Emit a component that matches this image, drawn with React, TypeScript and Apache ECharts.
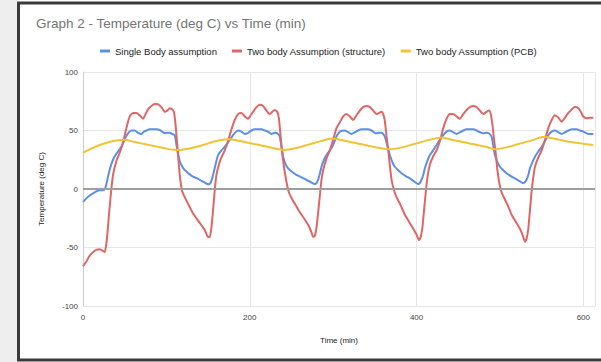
import React, { useEffect, useRef } from "react";
import * as echarts from "echarts";

const titleText = "Graph 2 - Temperature (deg C) vs Time (min)";
const seriesNames = [
  "Single Body assumption",
  "Two body Assumption (structure)",
  "Two body Assumption (PCB)",
];
const xTicks = [0, 200, 400, 600];
const yTicks = [-100, -50, 0, 50, 100];

const singleBody: [number, number][] = [
  [0, -11], [4, -8], [8, -5.5], [12, -3.7], [16, -2], [20, -1], [24, -1], [26, -0.5], [28, 4], [30, 10.5],
  [33, 19], [36, 25], [39, 29], [42, 32], [45, 35], [48, 39], [51, 44], [54, 47.6], [58, 50], [62, 50],
  [66, 48], [70, 47], [73, 49], [76, 50], [80, 51], [84, 51], [88, 51], [92, 50.4], [95, 49], [98, 47.6],
  [101, 48], [104, 48], [107, 47], [110, 46], [112, 38], [114, 30], [116, 24], [118, 20.5], [121, 17], [124, 15],
  [128, 12.5], [132, 10.5], [137, 9], [142, 7], [146, 5.5], [150, 4], [152, 4.5], [154, 7], [156, 12], [158, 18],
  [160, 24], [162, 29], [166, 33], [170, 36], [174, 40], [178, 44], [182, 48], [186, 50], [190, 49], [194, 47],
  [198, 48], [202, 50], [206, 51], [210, 51], [214, 51], [218, 50], [222, 49], [226, 47], [230, 48], [234, 47],
  [236, 44.7], [238, 36], [240, 27.6], [243, 21], [246, 17.7], [251, 14.5], [256, 12], [262, 10], [268, 7.7], [273, 6],
  [278, 4.3], [280, 5], [282, 8], [284, 13], [286, 19], [289, 25], [292, 29], [296, 33], [300, 37.6], [304, 45],
  [308, 49], [314, 50], [318, 48.5], [322, 47], [326, 48.5], [330, 50], [334, 51], [338, 51], [342, 51], [346, 50],
  [349, 48.5], [352, 47.6], [355, 48], [358, 48], [360, 47], [362, 44.7], [365, 37], [368, 29], [371, 23], [374, 19],
  [378, 16], [382, 13.4], [387, 11], [392, 9], [397, 6.5], [402, 4.3], [404, 5], [406, 8], [408, 12], [410, 17.7],
  [413, 24], [416, 29], [420, 33], [424, 37.6], [428, 42], [432, 46], [436, 49], [440, 50], [444, 48.5], [448, 47],
  [452, 48.5], [456, 50], [460, 51], [464, 51], [468, 51], [472, 50], [476, 48.5], [480, 47.6], [484, 48], [487, 47.5],
  [490, 44.7], [492, 37], [494, 29], [497, 23], [500, 19], [504, 16], [508, 13.4], [513, 11], [518, 9], [523, 7],
  [528, 5], [530, 6], [532, 8], [534, 12], [536, 17.7], [539, 23], [542, 27.6], [546, 32], [550, 36], [554, 41],
  [558, 46], [562, 49], [566, 50], [570, 48.5], [574, 47], [578, 48.5], [582, 50], [587, 51], [592, 51], [596, 50],
  [600, 49], [603, 48], [606, 47], [612, 47],
];

const structure: [number, number][] = [
  [0, -66], [4, -62], [8, -57], [12, -54], [16, -52], [20, -51.5], [24, -53], [26, -54], [28, -47], [30, -32],
  [32, -15], [34, 0], [36, 12], [40, 24], [44, 31], [48, 40], [52, 52], [56, 62], [60, 65], [64, 65],
  [68, 63], [72, 60], [75, 64], [78, 68], [82, 71], [86, 72.6], [90, 72.5], [94, 70], [98, 66], [101, 67],
  [104, 69], [107, 68], [109, 66], [111, 55], [113, 38], [116, 12], [119, -2], [122, -7], [127, -14], [132, -21],
  [137, -26], [142, -31], [146, -35], [150, -41], [152, -41], [154, -33], [156, -18], [158, -1], [160, 12], [163, 21],
  [166, 27], [170, 33], [174, 41], [178, 51], [182, 59], [186, 64], [190, 65], [194, 62], [198, 60], [201, 63],
  [204, 66], [208, 70], [212, 72], [216, 71], [220, 67], [224, 64], [227, 66], [230, 67.5], [233, 66], [235, 60],
  [237, 45], [239, 30], [241, 19], [244, 6], [247, -3], [251, -9], [256, -15], [261, -21], [266, -26], [271, -32],
  [274, -37], [276, -41], [278, -40], [280, -33], [282, -20], [284, -6], [286, 8], [288, 16], [292, 26], [296, 33],
  [300, 42], [304, 52], [308, 57], [312, 62], [316, 64], [320, 62], [324, 59], [328, 63], [332, 67], [336, 70],
  [340, 71], [344, 70], [348, 67], [352, 64], [355, 65], [358, 66], [360, 64], [362, 58], [364, 45], [366, 33],
  [368, 20], [370, 8], [373, -1], [376, -7], [381, -14], [386, -22], [391, -28], [396, -34], [400, -39], [403, -43.6],
  [405, -41], [407, -33], [409, -18], [411, -3], [413, 10], [416, 21], [420, 28], [424, 33], [428, 41], [432, 52],
  [436, 60], [440, 64], [444, 64], [448, 62], [452, 60], [456, 64], [460, 67.5], [464, 70], [468, 71], [472, 70],
  [476, 67], [480, 64], [484, 66], [487, 67], [489, 64], [491, 55], [493, 42], [495, 30], [497, 16], [499, 6],
  [502, -3], [506, -9], [510, -15], [514, -22], [519, -28], [524, -34], [527, -39], [530, -45], [532, -42], [534, -34],
  [536, -18], [538, -2], [540, 10], [542, 19], [546, 27], [550, 33], [554, 42], [558, 52], [562, 59], [566, 63],
  [570, 61], [574, 57.5], [578, 61], [582, 65], [586, 68], [590, 70], [594, 69], [597, 66], [600, 62], [604, 60.5],
  [608, 61], [612, 61],
];

const pcb: [number, number][] = [
  [0, 31], [10, 34.5], [20, 37.6], [30, 40], [40, 41.5], [50, 42], [60, 40.5], [70, 39], [80, 37.5], [90, 36],
  [100, 34.5], [110, 33.5], [116, 33.3], [122, 34], [130, 35], [140, 36.7], [150, 39], [160, 41], [170, 42.3], [176, 42.5],
  [185, 41.5], [195, 40], [205, 38.5], [215, 37], [225, 35.5], [235, 34], [241, 33.3], [248, 34], [258, 35.5], [268, 37.5],
  [278, 39.5], [288, 41.5], [296, 43], [302, 43], [312, 41.5], [322, 40], [332, 38.5], [342, 37], [352, 35.5], [362, 34.3],
  [368, 34], [375, 34.5], [385, 36], [395, 38], [405, 40], [415, 42], [425, 43.5], [430, 44], [440, 42.5], [450, 41],
  [460, 39.5], [470, 38], [480, 36.5], [488, 35], [494, 34], [500, 34.5], [510, 36], [520, 38], [530, 40], [540, 42],
  [548, 44], [554, 44.7], [562, 43.5], [572, 42], [582, 40.5], [592, 39.5], [602, 38.5], [612, 37.6],
];

const colors = ["#5b8fe8", "#e06666", "#f1c232"];

export default function App() {
  const ref = useRef<HTMLDivElement>(null);
  useEffect(() => {
    if (!ref.current) return;
    const chart = echarts.init(ref.current, null, { renderer: "svg" });
    const font = "Arial, 'Liberation Sans', sans-serif";
    const mk = (name: string, data: [number, number][], color: string) => ({
      name,
      type: "line",
      data,
      showSymbol: false,
      smooth: 0.2,
      lineStyle: { color, width: 2 },
      itemStyle: { color },
      z: 3,
    });
    chart.setOption({
      animation: false,
      color: colors,
      textStyle: { fontFamily: font },
      title: {
        text: titleText,
        left: 31,
        top: 11,
        textStyle: { fontSize: 13.5, fontWeight: "normal", color: "#757575", fontFamily: font },
      },
      legend: {
        top: 41,
        left: 95,
        itemWidth: 10,
        itemHeight: 3,
        itemGap: 15,
        icon: "rect",
        textStyle: { fontSize: 9.5, color: "#222", fontFamily: font },
        data: seriesNames,
      },
      graphic: [
        { type: "rect", shape: { x: 0, y: 0, width: 17, height: 362 }, style: { fill: "#eeeeee" }, silent: true },
        {
          type: "rect",
          shape: { x: 18.5, y: 3, width: 590, height: 357 },
          style: { fill: "none", stroke: "#3a3a3a", lineWidth: 3 },
          silent: true,
        },
      ],
      grid: { left: 83, right: 6, top: 72, bottom: 56 },
      xAxis: {
        type: "value",
        min: 0,
        max: 614,
        interval: 200,
        name: "Time (min)",
        nameLocation: "middle",
        nameGap: 30,
        nameTextStyle: { fontSize: 8, color: "#222" },
        axisLine: { show: false },
        axisTick: { show: false },
        axisLabel: {
          fontSize: 8,
          color: "#444",
          margin: 7,
          formatter: (v: number) => (xTicks.includes(v) ? String(v) : ""),
        },
        splitLine: { show: true, lineStyle: { color: "#e6e6e6", width: 1 } },
      },
      yAxis: {
        type: "value",
        min: -100,
        max: 100,
        interval: 50,
        name: "Temperature (deg C)",
        nameLocation: "middle",
        nameGap: 38,
        nameTextStyle: { fontSize: 8, color: "#222" },
        axisLine: { show: true, onZero: false, lineStyle: { color: "#cccccc", width: 1 } },
        axisTick: { show: false },
        axisLabel: {
          fontSize: 8,
          color: "#444",
          margin: 5,
          formatter: (v: number) => (yTicks.includes(v) ? String(v) : ""),
        },
        splitLine: { show: true, lineStyle: { color: "#e6e6e6", width: 1 } },
      },
      series: [
        mk(seriesNames[0], singleBody, colors[0]),
        mk(seriesNames[1], structure, colors[1]),
        mk(seriesNames[2], pcb, colors[2]),
        {
          type: "line",
          data: [],
          markLine: {
            silent: true,
            symbol: "none",
            label: { show: false },
            lineStyle: { color: "#9e9e9e", width: 2, type: "solid" },
            data: [{ yAxis: 0 }],
          },
          z: 2,
        },
      ],
    });
    return () => chart.dispose();
  }, []);
  return (
    <div
      ref={ref}
      style={{ position: "fixed", left: 0, top: 0, width: 601, height: 362, background: "#ffffff" }}
    />
  );
}
